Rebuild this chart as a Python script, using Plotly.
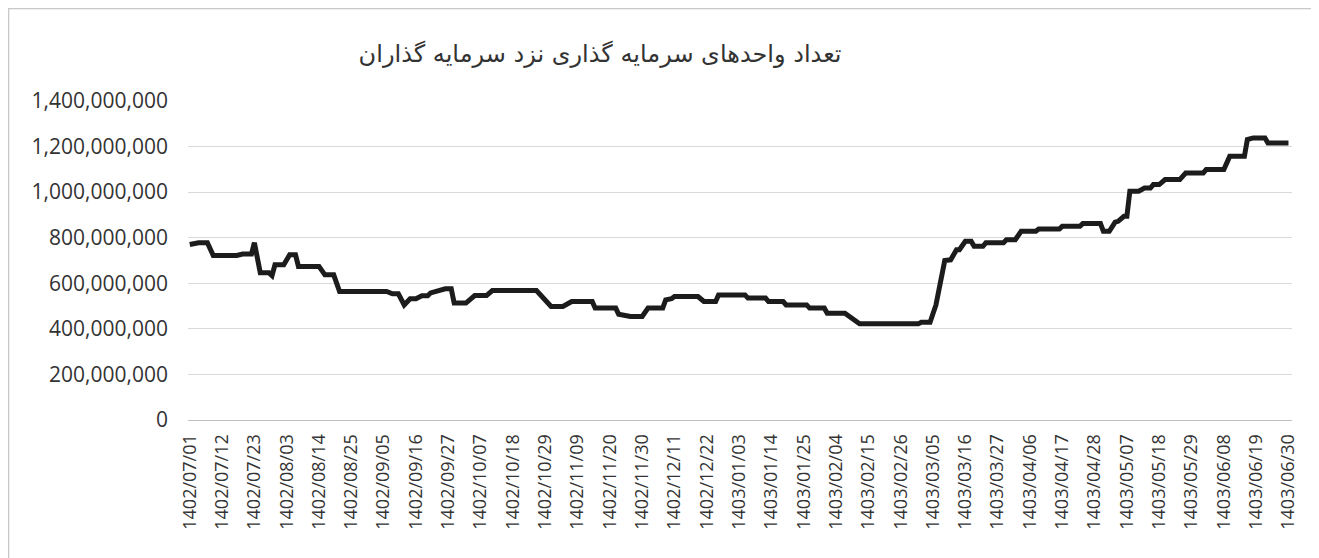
import plotly.graph_objects as go

# Tick labels (one every 11 data points on a category-style axis)
tick_labels = [
    "1402/07/01", "1402/07/12", "1402/07/23", "1402/08/03", "1402/08/14", "1402/08/25",
    "1402/09/05", "1402/09/16", "1402/09/27", "1402/10/07", "1402/10/18", "1402/10/29",
    "1402/11/09", "1402/11/20", "1402/11/30", "1402/12/11", "1402/12/22", "1403/01/03",
    "1403/01/14", "1403/01/25", "1403/02/04", "1403/02/15", "1403/02/26", "1403/03/05",
    "1403/03/16", "1403/03/27", "1403/04/06", "1403/04/17", "1403/04/28", "1403/05/07",
    "1403/05/18", "1403/05/29", "1403/06/08", "1403/06/19", "1403/06/30",
]
tick_step = 11

# Line vertices: data-point index and value (millions of units)
point_index = [
    0, 3, 6, 8, 16, 18, 21, 22, 24, 27, 28, 29, 32, 34, 36, 37, 44, 46, 49, 51,
    67, 69, 71, 73, 75, 77, 79, 81, 82, 87, 89, 90, 94, 97, 101, 103, 118, 121, 123, 127, 129,
    130, 137, 138, 145, 146, 150, 154, 156, 161, 162, 164, 165, 173, 175, 179, 180,
    189, 190, 196, 197, 202, 203, 210, 211, 216, 217, 223, 228, 248, 249, 252, 254,
    255.6, 257, 259, 261, 262, 264, 266, 267, 270, 271, 277, 278, 281, 283, 288, 289,
    296, 297, 303, 304, 310, 311, 313, 315, 316, 318, 319, 320, 323, 325, 327, 328,
    330, 332, 337, 339, 345, 346, 352, 354, 359, 360, 362, 366, 367, 374,
]
point_value_m = [
    770, 778, 778, 722, 722, 728, 728, 778, 646, 646, 634, 681, 681, 725, 725, 674, 674, 637, 637, 564,
    564, 554, 554, 505, 532, 532, 545, 545, 558, 576, 576, 513, 513, 546, 546, 568, 568, 527, 498, 498, 514,
    520, 520, 491, 491, 464, 454, 454, 491, 491, 527, 532, 542, 542, 520, 520, 549,
    549, 535, 535, 520, 520, 505, 505, 491, 491, 469, 469, 422, 422, 429, 429, 505,
    600, 700, 703, 747, 747, 784, 784, 762, 762, 778, 778, 791, 791, 828, 828, 838,
    838, 850, 850, 862, 862, 828, 828, 868, 872, 894, 894, 1004, 1004, 1018, 1018, 1033,
    1033, 1055, 1055, 1084, 1084, 1099, 1099, 1157, 1157, 1231, 1238, 1238, 1216, 1216,
]

y_ticks = [0, 200_000_000, 400_000_000, 600_000_000, 800_000_000,
           1_000_000_000, 1_200_000_000, 1_400_000_000]
title_text = "تعداد واحدهای سرمایه گذاری نزد سرمایه گذاران"

tick_positions = [i * tick_step for i in range(len(tick_labels))]
y_values = [v * 1_000_000 for v in point_value_m]

fig = go.Figure()
fig.add_trace(go.Scatter(
    x=point_index, y=y_values, mode="lines",
    line=dict(color="#1c1c1c", width=5),
    hoverinfo="skip", showlegend=False,
))

# figure sits 8px in from the page corner (default body margin)
W, H = 1311, 550
L, R, T, B = 180, 27, 93, 138
pw, ph = W - L - R, H - T - B

fig.update_layout(
    width=W, height=H,
    margin=dict(l=L, r=R, t=T, b=B, autoexpand=False),
    paper_bgcolor="white", plot_bgcolor="white",
    title=dict(text=title_text, x=592 / W, xref="container", xanchor="center",
               y=1 - 46 / H, yref="container", yanchor="middle",
               font=dict(family="DejaVu Sans", size=24, color="#333333")),
    xaxis=dict(
        range=[-0.6, 375.2], tickmode="array", tickvals=tick_positions, ticktext=tick_labels,
        tickangle=-90, showgrid=False, zeroline=False, automargin=False,
        showline=True, linecolor="#bfbfbf", linewidth=1, ticks="",
        tickfont=dict(family="Open Sans", size=18, color="#333333"),
        ticklabelstandoff=6,
    ),
    yaxis=dict(
        range=[0, 1_400_000_000], tickmode="array", tickvals=y_ticks,
        ticktext=[f"{v:,}" for v in y_ticks], automargin=False,
        showgrid=True, gridcolor="#d9d9d9", gridwidth=1, zeroline=False,
        showline=False, ticks="",
        tickfont=dict(family="Open Sans", size=21, color="#333333"),
        ticklabelstandoff=19,
    ),
    shapes=[dict(
        type="rect", xref="paper", yref="paper",
        x0=(0.5 - L) / pw, x1=(1305 - L) / pw,
        y0=(H - B - 600) / ph, y1=(H - B - 0.5) / ph,
        line=dict(color="#c8c8c8", width=1.5), fillcolor="rgba(0,0,0,0)", layer="below",
    )],
)

fig.write_html("out.html")
